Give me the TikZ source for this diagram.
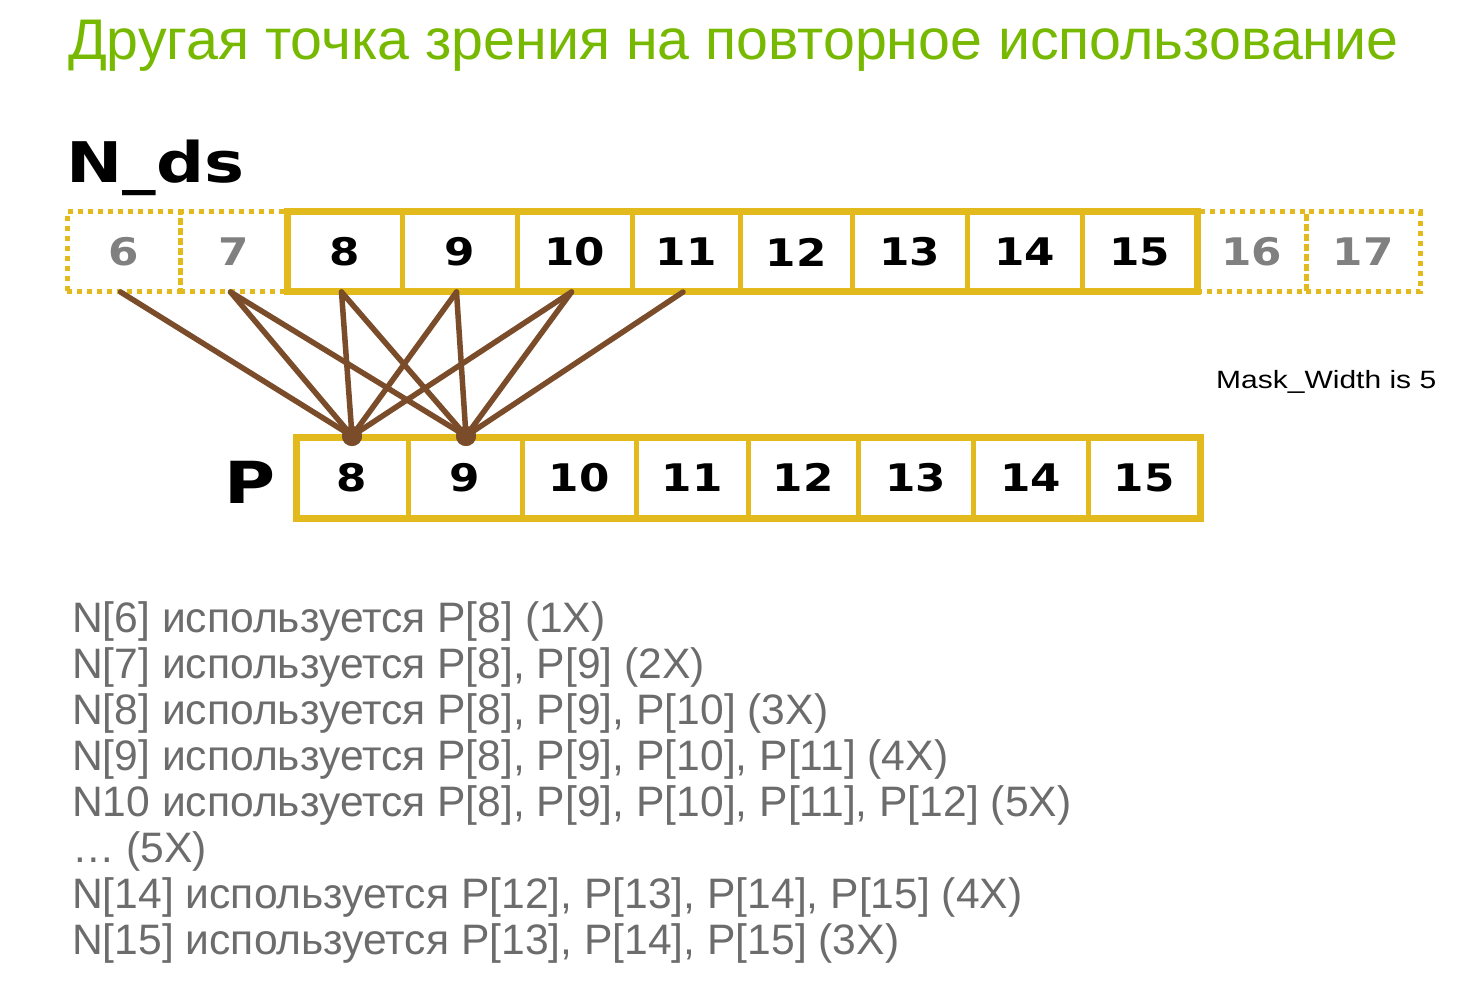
\documentclass[tikz,border=0pt]{standalone}
\usepackage{fontspec}
\setmainfont{Liberation Sans}
\newfontfamily\numfont{DejaVu Sans}[FakeStretch=1.15]
\newfontfamily\headfont{DejaVu Sans}[FakeStretch=1.2]
\newfontfamily\maskfont{Liberation Sans}[FakeStretch=1.2]
\definecolor{nvgreen}{RGB}{118,185,0}
\definecolor{cellyel}{RGB}{226,186,30}
\definecolor{linkbrown}{RGB}{122,76,42}
\definecolor{txtgray}{RGB}{108,108,108}
\definecolor{numgray}{RGB}{128,128,128}
\tikzset{
  cellbase/.style={inner sep=0pt, outer sep=0pt, minimum height=80pt,
    font=\numfont\bfseries\fontsize{38}{40}\selectfont},
  solidcell/.style={cellbase, draw=cellyel, line width=5pt, text=black},
  dotcell/.style={cellbase, draw=cellyel, line width=5pt, dash pattern=on 5pt off 5pt, text=numgray},
  link/.style={draw=linkbrown, line width=5.5pt, line cap=round},
  junction/.style={circle, fill=linkbrown, minimum size=20pt, inner sep=0pt},
  bodyline/.style={anchor=base west, inner sep=0pt, text=txtgray, font=\fontsize{42.6}{46}\selectfont},
}
\begin{document}
\begin{tikzpicture}[x=1pt, y=-1pt]
\useasboundingbox[fill=white] (0,0) rectangle (1464,992);
% title
\node[anchor=base west, inner sep=0pt, text=nvgreen, font=\fontsize{57.3}{60}\selectfont] (title) at (68,60) {Другая точка зрения на повторное использование};
% headings
\node[anchor=base west, inner sep=0pt, font=\headfont\bfseries\fontsize{56}{60}\selectfont] (nds) at (66,183) {N\_ds};
\node[anchor=base west, inner sep=0pt, font=\headfont\bfseries\fontsize{58}{60}\selectfont] (plabel) at (224,503) {P};
% top row
\foreach \n/\a/\b in {6/67/180, 7/180/287, 16/1197/1306, 17/1306/1420}
  \node[dotcell, minimum width={\b-\a}] (t\n) at ({(\a+\b)/2},252) {\n};
\foreach \n/\a/\b in {8/287/402, 9/402/517, 10/517/632, 11/632/740, 12/740/852, 13/852/967, 14/967/1082, 15/1082/1197}
  \node[solidcell, minimum width={\b-\a}] (t\n) at ({(\a+\b)/2},252) {\n};
\draw[cellyel, line width=7pt] (t8.north west) rectangle (t15.south east);
% bottom row
\foreach \n/\a/\b in {8/296/408, 9/408/522, 10/522/636, 11/636/748, 12/748/858, 13/858/973, 14/973/1088, 15/1088/1200}
  \node[solidcell, minimum width={\b-\a}, minimum height=81pt] (p\n) at ({(\a+\b)/2},477.5) {\n};
\draw[cellyel, line width=7pt] (p8.north west) rectangle (p15.south east);
% junctions
\node[junction] (j8) at (352,436) {};
\node[junction] (j9) at (466,436) {};
% connectors
\foreach \s in {6,7,8,9,10}
  \draw[link] ([xshift=-3pt]t\s.south) -- (j8.center);
\foreach \s in {7,8,9,10,11}
  \draw[link] ([xshift=-3pt]t\s.south) -- (j9.center);
\node[junction] at (j8) {};
\node[junction] at (j9) {};
% mask width
\node[anchor=base west, inner sep=0pt, font=\maskfont\fontsize{25}{28}\selectfont] (mask) at (1216,388) {Mask\_Width is 5};
% body text
\node[bodyline] (l1) at (72,632) {N[6] используется P[8] (1X)};
\node[bodyline] (l2) at (72,678) {N[7] используется P[8], P[9] (2X)};
\node[bodyline] (l3) at (72,724) {N[8] используется P[8], P[9], P[10] (3X)};
\node[bodyline] (l4) at (72,770) {N[9] используется P[8], P[9], P[10], P[11] (4X)};
\node[bodyline] (l5) at (72,816) {N10 используется P[8], P[9], P[10], P[11], P[12] (5X)};
\node[bodyline] (l6) at (72,862) {… (5X)};
\node[bodyline] (l7) at (72,908) {N[14] используется P[12], P[13], P[14], P[15] (4X)};
\node[bodyline] (l8) at (72,954) {N[15] используется P[13], P[14], P[15] (3X)};
\end{tikzpicture}
\end{document}
